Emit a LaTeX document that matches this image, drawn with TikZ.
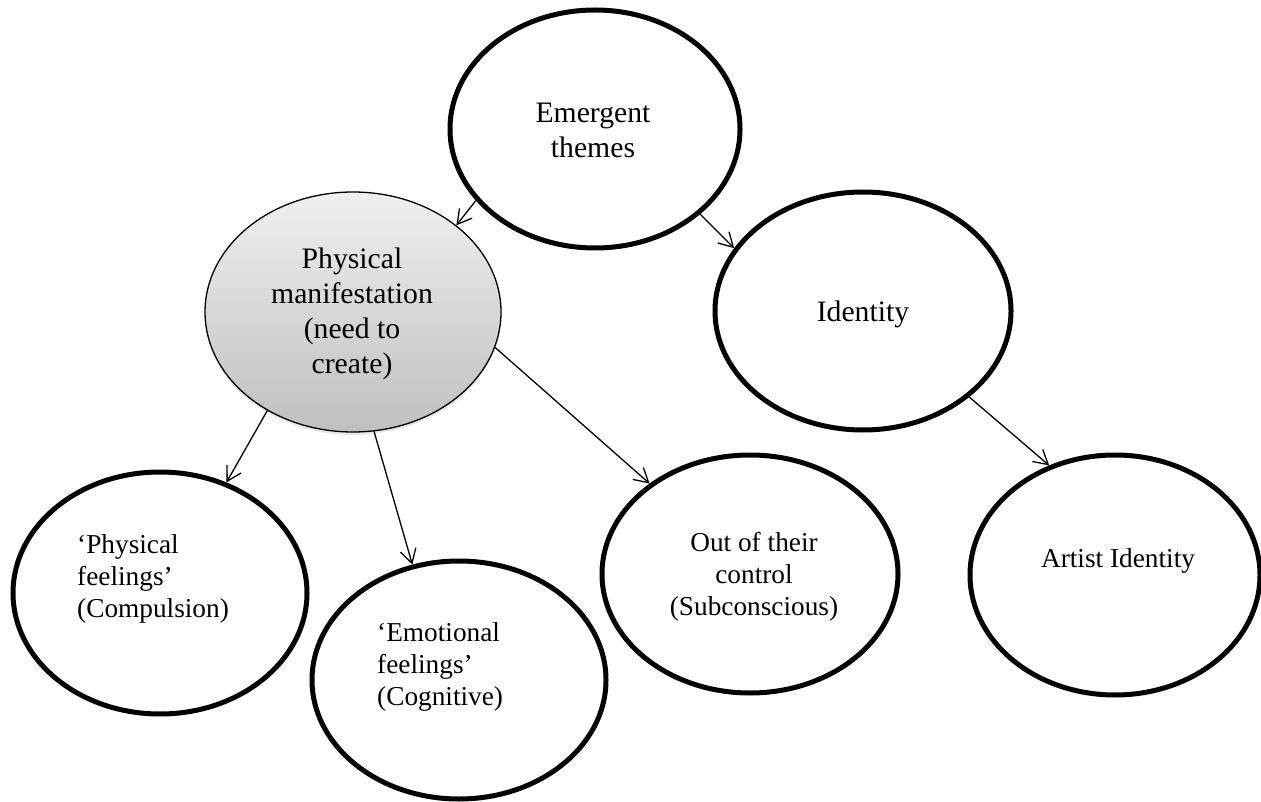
\documentclass[tikz,border=0pt]{standalone}
\usepackage{fontspec}
\setmainfont{Liberation Serif}
\usetikzlibrary{shapes.geometric,arrows.meta,shadows}
\begin{document}
\begin{tikzpicture}[x=1pt,y=-1pt,
  bubble/.style={ellipse, draw=black, line width=5pt, inner sep=0pt,
    minimum width=294pt, minimum height=240pt},
  shadedbubble/.style={ellipse, draw=black, line width=1.3pt, inner sep=0pt,
    top color=gray!12, bottom color=gray!50,
    drop shadow={shadow xshift=0pt, shadow yshift=-3pt, opacity=0.18}},
  bigtext/.style={font=\fontsize{29.7pt}{35pt}\selectfont, inner sep=0pt},
  smalltext/.style={font=\fontsize{27.3pt}{32pt}\selectfont, inner sep=0pt},
  link/.style={line width=1.3pt, -{Straight Barb[length=14pt,width=16pt,line width=1.3pt]}},
]
\useasboundingbox (0,0) rectangle (1261,802);

% ellipses
\node[bubble, minimum width=290pt, minimum height=238pt] (emerg) at (595,129) {};
\node[shadedbubble, minimum width=296pt, minimum height=240pt] (manif) at (353,312) {};
\node[bubble, minimum width=296pt, minimum height=238pt] (ident) at (863,311) {};
\node[bubble, minimum width=294pt, minimum height=242pt] (physf) at (160,593) {};
\node[bubble, minimum width=294pt, minimum height=238pt] (emof) at (459,680) {};
\node[bubble, minimum width=296pt, minimum height=238pt] (outc) at (750,574) {};
\node[bubble, minimum width=290pt, minimum height=240pt] (artist) at (1115,575) {};

% texts (anchored on the baseline of their last line)
\node[bigtext, align=center, anchor=base] (emergtxt) at (593,158) {Emergent\\themes};
\node[bigtext, align=center, anchor=base] (maniftxt) at (352,373) {Physical\\manifestation\\(need to\\create)};
\node[bigtext, anchor=base] (identtxt) at (863,322) {Identity};
\node[smalltext, align=left, anchor=base west] (physftxt) at (77,617) {‘Physical\\feelings’\\(Compulsion)};
\node[smalltext, align=left, anchor=base west] (emoftxt) at (377,705) {‘Emotional\\feelings’\\(Cognitive)};
\node[smalltext, align=center, anchor=base] (outctxt) at (754,615) {Out of their\\control\\(Subconscious)};
\node[smalltext, anchor=base] (artisttxt) at (1118,567) {Artist Identity};

% connectors
\draw[link] (emerg.211) -- (manif.40);
\draw[link] (emerg.321) -- (ident.154);
\draw[link] (ident.321) -- (artist.121);
\draw[link] (manif.229) -- (physf.59);
\draw[link] (manif.280) -- (emof.112);
\draw[link] (manif.346) -- (outc.138);
\end{tikzpicture}
\end{document}
